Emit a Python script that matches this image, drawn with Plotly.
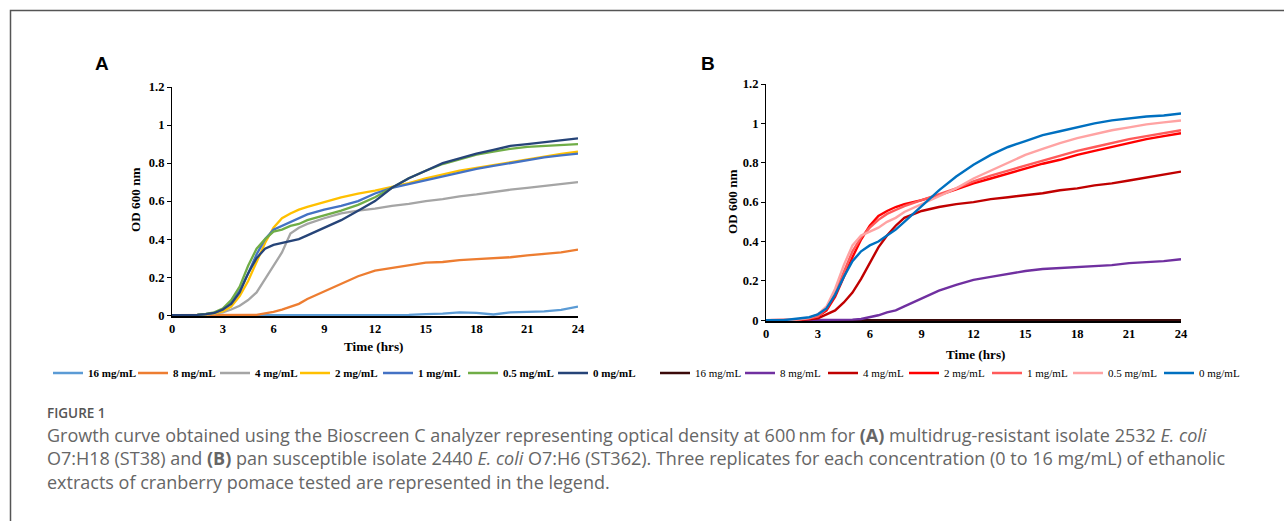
import plotly.graph_objects as go

W, H = 1284, 521

# ---------------- data ----------------
hours = [0, 1, 1.5, 2, 2.5, 3, 3.5, 4, 4.5, 5, 5.5, 6, 6.5, 7, 7.5, 8,
         9, 10, 11, 12, 13, 14, 15, 16, 17, 18, 19, 20, 21, 22, 23, 24]

conc_labels = ["16 mg/mL", "8 mg/mL", "4 mg/mL", "2 mg/mL", "1 mg/mL", "0.5 mg/mL", "0 mg/mL"]

# Panel A: multidrug-resistant isolate 2532
a_16 = [0, 0, 0, 0, 0, 0, 0, 0, 0, 0, 0, 0, 0, 0, 0, 0, 0, 0, 0, 0, 0, 0.002,
        0.006, 0.008, 0.015, 0.012, 0.004, 0.015, 0.018, 0.02, 0.028, 0.045]
a_8 = [0, 0, 0, 0, 0, 0, 0, 0, 0, 0.002, 0.01, 0.018, 0.03, 0.045, 0.06, 0.085,
       0.125, 0.165, 0.205, 0.235, 0.25, 0.262, 0.277, 0.28, 0.29, 0.295, 0.3,
       0.305, 0.315, 0.322, 0.33, 0.345]
a_4 = [0, 0, 0.002, 0.004, 0.008, 0.015, 0.03, 0.05, 0.08, 0.12, 0.19, 0.26,
       0.33, 0.43, 0.46, 0.48, 0.51, 0.535, 0.55, 0.56, 0.575, 0.585, 0.6, 0.61,
       0.625, 0.635, 0.648, 0.66, 0.67, 0.68, 0.69, 0.70]
a_2 = [0, 0, 0.002, 0.005, 0.01, 0.02, 0.045, 0.1, 0.18, 0.28, 0.38, 0.46, 0.51,
       0.535, 0.555, 0.57, 0.595, 0.62, 0.64, 0.655, 0.675, 0.695, 0.72, 0.74,
       0.76, 0.775, 0.79, 0.805, 0.82, 0.835, 0.848, 0.86]
a_1 = [0, 0, 0.002, 0.006, 0.012, 0.03, 0.07, 0.13, 0.22, 0.32, 0.4, 0.45, 0.47,
       0.49, 0.51, 0.53, 0.555, 0.575, 0.6, 0.64, 0.67, 0.69, 0.71, 0.73, 0.75,
       0.77, 0.785, 0.80, 0.815, 0.83, 0.84, 0.85]
a_05 = [0, 0, 0.002, 0.007, 0.015, 0.035, 0.08, 0.15, 0.26, 0.35, 0.4, 0.44, 0.45,
        0.47, 0.48, 0.5, 0.525, 0.55, 0.58, 0.62, 0.67, 0.72, 0.76, 0.795, 0.82,
        0.845, 0.86, 0.875, 0.885, 0.89, 0.895, 0.9]
a_0 = [0, 0, 0.002, 0.006, 0.012, 0.03, 0.06, 0.12, 0.22, 0.3, 0.35, 0.37, 0.38,
       0.39, 0.4, 0.42, 0.46, 0.5, 0.55, 0.6, 0.67, 0.72, 0.76, 0.8, 0.825, 0.85,
       0.87, 0.89, 0.9, 0.91, 0.92, 0.93]

# Panel B: pan susceptible isolate 2440
b_16 = [0, 0, 0, 0, 0, 0, 0, 0, 0, 0, 0, 0, 0, 0, 0, 0, 0, 0, 0, 0, 0, 0, 0, 0,
        0, 0, 0, 0, 0, 0, 0, 0]
b_8 = [0, 0, 0, 0, 0, 0, 0, 0, 0, 0.003, 0.006, 0.015, 0.025, 0.04, 0.05, 0.07,
       0.11, 0.15, 0.18, 0.205, 0.22, 0.235, 0.25, 0.26, 0.265, 0.27, 0.275, 0.28,
       0.29, 0.295, 0.3, 0.31]
b_4 = [0, 0, 0, 0.002, 0.005, 0.01, 0.03, 0.05, 0.09, 0.14, 0.21, 0.29, 0.37,
       0.43, 0.48, 0.52, 0.555, 0.575, 0.59, 0.6, 0.615, 0.625, 0.635, 0.645,
       0.66, 0.67, 0.685, 0.695, 0.71, 0.725, 0.74, 0.755]
b_2 = [0, 0, 0, 0.005, 0.01, 0.02, 0.05, 0.12, 0.22, 0.32, 0.41, 0.48, 0.53,
       0.555, 0.575, 0.59, 0.61, 0.635, 0.665, 0.695, 0.72, 0.745, 0.77, 0.795,
       0.815, 0.84, 0.86, 0.88, 0.9, 0.92, 0.935, 0.95]
b_1 = [0, 0, 0, 0.005, 0.01, 0.02, 0.06, 0.14, 0.25, 0.35, 0.42, 0.47, 0.51,
       0.54, 0.56, 0.58, 0.61, 0.64, 0.67, 0.705, 0.735, 0.76, 0.785, 0.81,
       0.835, 0.86, 0.88, 0.9, 0.92, 0.935, 0.95, 0.965]
b_05 = [0, 0, 0.002, 0.006, 0.012, 0.03, 0.07, 0.16, 0.28, 0.38, 0.43, 0.45, 0.47,
        0.5, 0.52, 0.55, 0.59, 0.63, 0.67, 0.72, 0.76, 0.8, 0.84, 0.87, 0.9,
        0.925, 0.945, 0.965, 0.98, 0.995, 1.005, 1.015]
b_0 = [0, 0, 0.005, 0.01, 0.015, 0.03, 0.06, 0.13, 0.22, 0.3, 0.35, 0.38, 0.4,
       0.43, 0.46, 0.5, 0.58, 0.66, 0.73, 0.79, 0.84, 0.88, 0.91, 0.94, 0.96,
       0.98, 1.0, 1.015, 1.025, 1.035, 1.04, 1.05]

x_ticks = [0, 3, 6, 9, 12, 15, 18, 21, 24]
y_ticks = [0, 0.2, 0.4, 0.6, 0.8, 1.0, 1.2]
y_tick_text = ["0", "0.2", "0.4", "0.6", "0.8", "1", "1.2"]

colors_a = ["#5B9BD5", "#ED7D31", "#A5A5A5", "#FFC000", "#4472C4", "#70AD47", "#264478"]
colors_b = ["#3B0A0A", "#7030A0", "#C00000", "#FF0000", "#FF5A5A", "#FFA3A3", "#0070C0"]

series_a = [a_16, a_8, a_4, a_2, a_1, a_05, a_0]
series_b = [b_16, b_8, b_4, b_2, b_1, b_05, b_0]

# legend entry widths (text part, px)
legend_w_a = [40, 37, 35, 38, 40, 45, 48]
legend_w_b = [40, 38, 36, 38, 36, 46, 44]

caption_label = "FIGURE 1"
caption_lines = [
    "Growth curve obtained using the Bioscreen C analyzer representing optical density at 600\u2009nm for <b>(A)</b> multidrug-resistant isolate 2532 <i>E. coli</i>",
    "O7:H18 (ST38) and <b>(B)</b> pan susceptible isolate 2440 <i>E. coli</i> O7:H6 (ST362). Three replicates for each concentration (0 to 16 mg/mL) of ethanolic",
    "extracts of cranberry pomace tested are represented in the legend.",
]

SERIF = "Liberation Serif, Times New Roman, serif"
SANS = "Open Sans, Liberation Sans, sans-serif"


def px(x):
    return x / W


def py(y):
    return 1 - y / H


fig = go.Figure()

for name, ys, col, lw in zip(conc_labels, series_a, colors_a, legend_w_a):
    fig.add_trace(go.Scatter(x=hours, y=ys, name=name, mode="lines",
                             line=dict(color=col, width=2.3), legendwidth=lw,
                             xaxis="x", yaxis="y", legend="legend"))
for name, ys, col, lw in zip(conc_labels, series_b, colors_b, legend_w_b):
    fig.add_trace(go.Scatter(x=hours, y=ys, name=name, mode="lines",
                             line=dict(color=col, width=2.4), legendwidth=lw,
                             xaxis="x2", yaxis="y2", legend="legend2"))

tickfont = dict(family=SERIF, size=12.5, color="#000", weight="bold")


def xax(d0, d1, anchor):
    return dict(domain=[px(d0), px(d1)], range=[0, 24], tickvals=x_ticks,
                showline=True, linecolor="#000", linewidth=1.8, ticks="",
                showgrid=False, zeroline=False, tickfont=tickfont,
                anchor=anchor, fixedrange=True, automargin=False)


def yax(top, bottom, anchor):
    return dict(domain=[py(bottom), py(top)], range=[-0.004, 1.2],
                tickvals=y_ticks, ticktext=y_tick_text, showline=True,
                linecolor="#000", linewidth=1.2, ticks="outside", ticklen=4,
                tickcolor="#000", showgrid=False, zeroline=False,
                tickfont=tickfont, anchor=anchor, fixedrange=True,
                automargin=False)


fig.update_layout(
    width=W, height=H, autosize=False,
    margin=dict(l=0, r=0, t=0, b=0, pad=0, autoexpand=False),
    paper_bgcolor="white", plot_bgcolor="white",
    xaxis=xax(172, 578, "y"),
    yaxis=yax(87, 316, "x"),
    xaxis2=xax(766, 1181, "y2"),
    yaxis2=yax(84, 321, "x2"),
    legend=dict(orientation="h", x=px(48), y=py(373), xanchor="left",
                yanchor="middle", font=dict(family=SERIF, size=11, color="#000",
                                            weight="bold"),
                bgcolor="rgba(0,0,0,0)", itemwidth=30, tracegroupgap=0),
    legend2=dict(orientation="h", x=px(655), y=py(373), xanchor="left",
                 yanchor="middle", font=dict(family=SERIF, size=11, color="#000"),
                 bgcolor="rgba(0,0,0,0)", itemwidth=30, tracegroupgap=0),
    showlegend=True,
)

title_font = dict(family=SERIF, size=13.2, color="#000")
annotations = [
    dict(text="<b>A</b>", x=px(102), y=py(64), font=dict(family="Liberation Sans, Arial", size=19, color="#000")),
    dict(text="<b>B</b>", x=px(708), y=py(64), font=dict(family="Liberation Sans, Arial", size=19, color="#000")),
    dict(text="<b>Time (hrs)</b>", x=px(374), y=py(347), font=title_font),
    dict(text="<b>Time (hrs)</b>", x=px(975), y=py(354), font=title_font),
    dict(text="<b>OD 600 nm</b>", x=px(135), y=py(200), textangle=-90, font=title_font),
    dict(text="<b>OD 600 nm</b>", x=px(732), y=py(202), textangle=-90, font=title_font),
]
cap_color = "#666666"
annotations += [
    dict(text=caption_label, x=px(45), y=py(413), xanchor="left",
         font=dict(family=SANS, size=13.5, color="#555555", weight=600)),
    dict(text="<br>".join(caption_lines), x=px(45), y=py(458), xanchor="left",
         align="left", font=dict(family=SANS, size=18, color=cap_color)),
]
for a in annotations:
    a.setdefault("xanchor", "center")
    a.update(xref="paper", yref="paper", yanchor="middle", showarrow=False)
fig.update_layout(annotations=annotations)

fig.add_shape(type="rect", xref="paper", yref="paper",
              x0=px(10.5), x1=px(1300), y0=py(540), y1=py(10.5),
              line=dict(color="#555", width=1.5), fillcolor="rgba(0,0,0,0)")

fig.write_html(
    "out.html", config={"displayModeBar": False, "responsive": False},
    post_script=(
        "document.documentElement.style.overflow='hidden';"
        "document.body.style.margin='0';document.body.style.padding='0';"
        "document.body.style.overflow='hidden';"
        "var d=document.getElementById('{plot_id}');"
        "d.style.position='fixed';d.style.left='0px';d.style.top='0px';"
    ),
)
